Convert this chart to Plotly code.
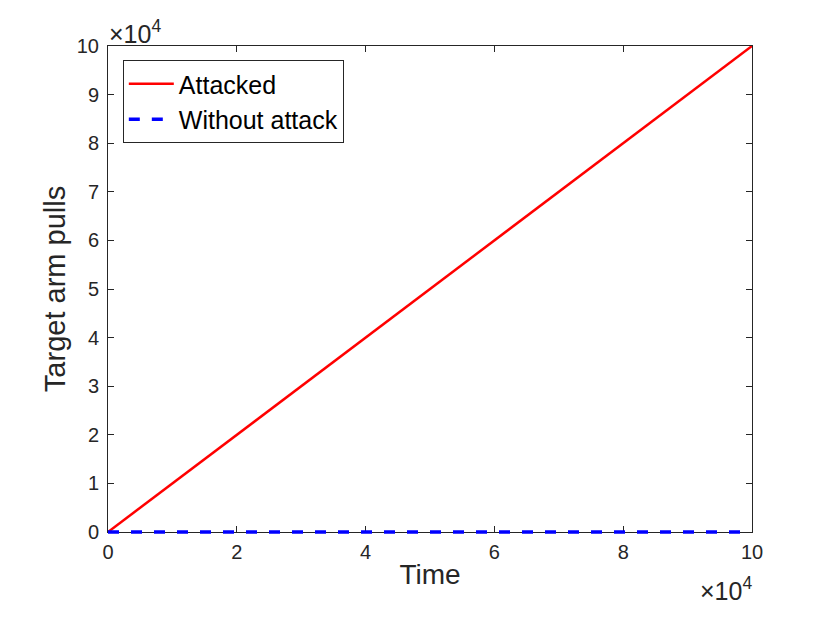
import plotly.graph_objects as go

time = [0, 100000]
attacked = [0, 100000]
without_attack = [0, 0]

xtick_vals = [0, 20000, 40000, 60000, 80000, 100000]
xtick_text = ["0", "2", "4", "6", "8", "10"]
ytick_vals = [i * 10000 for i in range(11)]
ytick_text = [str(i) for i in range(11)]

ink = "#262626"
font = "Liberation Sans, Arial, sans-serif"

# the dashed line sits on y=0, so it goes on a hidden twin axis whose area
# reaches a few px below the frame; otherwise half of it is clipped away
pad = 6
plot_h = 486
y_lo = -pad * 100000 / plot_h

fig = go.Figure()
fig.add_trace(go.Scatter(x=time, y=attacked, mode="lines", name="Attacked",
                         line=dict(color="#ff0000", width=2.5)))
fig.add_trace(go.Scatter(x=time, y=without_attack, mode="lines", name="Without attack",
                         yaxis="y2",
                         line=dict(color="#0000ff", width=3.5, dash="11px,12px")))

axis = dict(showgrid=False, zeroline=False, showline=True, linecolor=ink, linewidth=1,
            mirror="ticks", ticks="inside", ticklen=6, tickcolor=ink, layer="below traces",
            tickfont=dict(family=font, size=20, color=ink))

# page body has an 8px margin, so margins are shifted to compensate
fig.update_layout(
    width=830, height=623,
    margin=dict(l=100, r=86, t=38, b=99 - pad),
    plot_bgcolor="rgba(0,0,0,0)", paper_bgcolor="white",
    font=dict(family=font, color=ink),
    xaxis=dict(axis, range=[0, 100000], tickvals=xtick_vals, ticktext=xtick_text,
               ticklabelstandoff=2, anchor="y",
               title=dict(text="Time", font=dict(size=28, color=ink), standoff=2)),
    yaxis=dict(axis, range=[0, 100000], tickvals=ytick_vals, ticktext=ytick_text,
               ticklabelstandoff=4, domain=[pad / (plot_h + pad), 1],
               title=dict(text="Target arm pulls", font=dict(size=29, color=ink), standoff=2)),
    yaxis2=dict(range=[y_lo, 100000], domain=[0, 1], anchor="x", visible=False,
                showgrid=False, zeroline=False),
    legend=dict(x=0.023, y=1 - 14 / (plot_h + pad), xanchor="left", yanchor="top",
                bgcolor="white", bordercolor=ink, borderwidth=1,
                font=dict(family=font, size=25, color="black"),
                itemwidth=45, tracegroupgap=0),
    showlegend=True,
    annotations=[
        dict(text="×10<sup>4</sup>", xref="paper", yref="paper", x=0, y=1,
             xanchor="left", yanchor="bottom", showarrow=False, xshift=-1, yshift=-4,
             font=dict(family=font, size=25, color=ink)),
        dict(text="×10<sup>4</sup>", xref="paper", yref="paper", x=1, y=0,
             xanchor="right", yanchor="top", showarrow=False, xshift=2, yshift=-33,
             font=dict(family=font, size=25, color=ink)),
    ],
)

fig.write_html("out.html")
